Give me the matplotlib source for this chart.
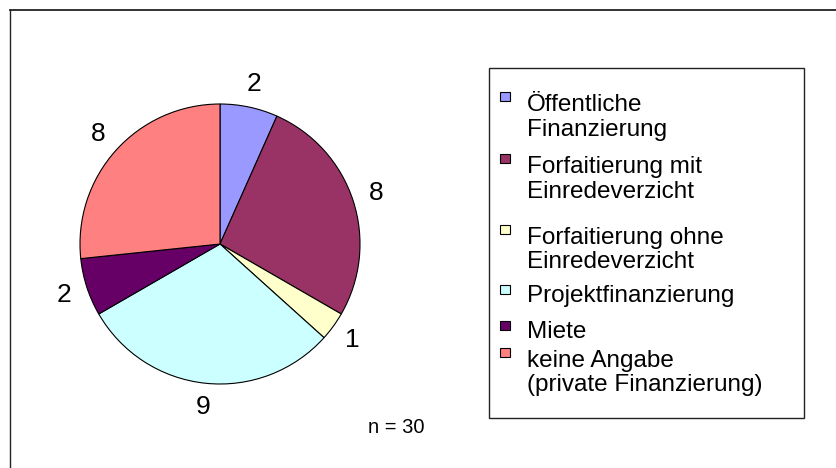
import matplotlib.pyplot as plt
from matplotlib.patches import Rectangle
from matplotlib.lines import Line2D

plt.rcParams['font.family'] = ['Liberation Sans', 'DejaVu Sans']

labels = ['Öffentliche\nFinanzierung', 'Forfaitierung mit\nEinredeverzicht',
          'Forfaitierung ohne\nEinredeverzicht', 'Projektfinanzierung',
          'Miete', 'keine Angabe\n(private Finanzierung)']
values = [2, 8, 1, 9, 2, 8]
colors = ['#9999FF', '#993366', '#FFFFCC', '#CCFFFF', '#660066', '#FF8080']
n_total = sum(values)

W, H = 837, 468
fig = plt.figure(figsize=(W / 100, H / 100), dpi=100)

def fx(px):
    return px / W

def fy(py):
    return 1 - py / H

# outer frame (top and left edges visible)
fig.add_artist(Line2D([fx(10), 1], [fy(10), fy(10)], color='#222222', lw=1.3))
fig.add_artist(Line2D([fx(10), fx(10)], [fy(10), 0], color='#222222', lw=1.0))

# pie: centre (220, 244), radius 140 px
ax = fig.add_axes([fx(45), fy(244 + 175), 350 / W, 350 / H])
wedges, texts = ax.pie(values, colors=colors, labels=[str(v) for v in values],
                       startangle=90, counterclock=False, labeldistance=1.17,
                       wedgeprops=dict(edgecolor='black', linewidth=0.8),
                       textprops=dict(fontsize=19))
for t in texts:
    t.set_ha('center')
    t.set_va('center')
ax.set_xlim(-1.25, 1.25)
ax.set_ylim(-1.25, 1.25)
ax.set_aspect('equal')
ax.axis('off')

fig.text(fx(396), fy(433), f'n = {n_total}', fontsize=14.5, ha='center', va='baseline')

# legend box
fig.add_artist(Rectangle((fx(489), fy(418)), fx(804) - fx(489), fy(68) - fy(418),
                         transform=fig.transFigure, facecolor='white',
                         edgecolor='#222222', lw=1.0))
baselines = [109, 171, 242, 302, 338, 365]
line_step = 26.5
for lab, col, yb in zip(labels, colors, baselines):
    fig.add_artist(Rectangle((fx(500), fy(yb - 8)), 10 / W, 9 / H,
                             transform=fig.transFigure, facecolor=col,
                             edgecolor='black', lw=0.8))
    nl = lab.count('\n')
    fig.text(fx(527), fy(yb + nl * line_step), lab, fontsize=17.5, ha='left',
             va='baseline', linespacing=1.17)

fig.savefig('out.png', dpi=100)
